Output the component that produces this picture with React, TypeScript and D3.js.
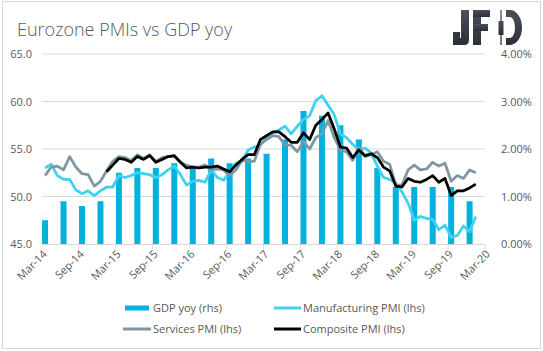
import React from 'react';
import * as d3 from 'd3';

// monthly PMI readings, Mar-14 .. Jan-20
const manufacturing = [
  53.0, 53.4, 52.2, 51.8, 51.8, 50.7, 50.3, 50.6, 50.1, 50.6,
  51.0, 51.0, 52.2, 52.0, 52.2, 52.5, 52.4, 52.3, 52.0, 52.3, 52.8, 53.2,
  52.3, 51.2, 51.6, 51.7, 51.5, 52.8, 52.0, 51.7, 52.6, 53.5, 53.7, 54.9,
  55.2, 55.4, 56.2, 56.7, 57.0, 57.4, 56.6, 57.4, 58.1, 58.5, 60.1, 60.6,
  59.6, 58.6, 56.6, 56.2, 55.5, 54.9, 55.1, 54.6, 53.2, 52.0, 51.8, 51.4,
  50.5, 49.3, 47.5, 47.9, 47.7, 47.6, 46.5, 47.0, 45.7, 45.9, 46.9, 46.3,
  47.9,
];
const services = [
  52.2, 53.1, 53.2, 52.8, 54.2, 53.1, 52.4, 52.3, 51.1, 51.6,
  52.7, 53.7, 54.2, 54.1, 53.8, 54.4, 54.0, 54.4, 53.7, 54.1, 54.2, 54.2,
  53.6, 53.3, 53.1, 53.1, 53.3, 52.8, 52.9, 52.8, 52.2, 52.8, 53.8, 53.7,
  53.7, 55.5, 56.0, 56.4, 56.3, 55.4, 55.4, 54.7, 55.8, 55.0, 56.2, 56.6,
  58.0, 56.2, 54.9, 54.7, 53.8, 55.2, 54.2, 54.4, 54.7, 53.7, 53.4, 51.2,
  51.2, 52.8, 53.3, 52.8, 52.9, 53.6, 53.2, 53.5, 51.6, 52.2, 51.9, 52.8,
  52.5,
];
// composite starts Jan-15 (month 10)
const compositeStart = 10;
const composite = [
  52.6, 53.3, 54.0, 53.9, 53.6, 54.2, 53.9, 54.3, 53.6, 53.9, 54.2, 54.3,
  53.6, 53.0, 53.1, 53.0, 53.1, 53.1, 53.2, 52.9, 52.6, 53.3, 53.9, 54.4,
  54.4, 56.0, 56.4, 56.8, 56.8, 56.3, 55.7, 55.7, 56.7, 56.0, 57.5, 58.1,
  58.8, 57.1, 55.2, 55.1, 54.1, 54.9, 54.3, 54.5, 54.1, 53.1, 52.7, 51.1,
  51.0, 51.9, 51.6, 51.5, 51.8, 52.2, 51.5, 51.9, 50.1, 50.6, 50.6, 50.9,
  51.3,
];
// quarterly GDP yoy %, Mar-14 .. Dec-19
const gdp = [
  0.5, 0.9, 0.8, 0.9, 1.5, 1.6, 1.6, 1.7, 1.6, 1.8, 1.7, 1.8,
  1.9, 2.2, 2.8, 2.7, 2.5, 2.2, 1.6, 1.2, 1.2, 1.2, 1.2, 0.9,
];
const tickLabels = [
  'Mar-14', 'Sep-14', 'Mar-15', 'Sep-15', 'Mar-16', 'Sep-16', 'Mar-17',
  'Sep-17', 'Mar-18', 'Sep-18', 'Mar-19', 'Sep-19', 'Mar-20',
];
const leftTicks = [45, 50, 55, 60, 65];
const rightTicks = [0, 1, 2, 3, 4];

const W = 543;
const H = 351;
const font = "'Open Sans', 'Liberation Sans', sans-serif";
const txt = '#595959';
const grid = '#d9d9d9';
const cBar = '#00b2dc';
const cMan = '#3cd2f0';
const cSer = '#7f97a2';
const cCom = '#000000';

const x = d3.scaleLinear().domain([0, 72]).range([42, 485]);
const yL = d3.scaleLinear().domain([45, 65]).range([244, 54]);
const yR = d3.scaleLinear().domain([0, 4]).range([244, 54]);

const mkLine = (start: number) =>
  d3.line<number>()
    .x((_, i) => x(start + i + 0.5))
    .y((d) => yL(d));

export default function App() {
  const barW = 6;
  return (
    <svg width={W} height={H} style={{ position: 'fixed', left: 0, top: 0, background: '#fff' }}>
      <defs>
        <linearGradient id="logo" x1="0" y1="0" x2="0" y2="1">
          <stop offset="0" stopColor="#4b5159" />
          <stop offset="1" stopColor="#2a2f36" />
        </linearGradient>
      </defs>
      <rect x={2.5} y={1.5} width={538} height={347} fill="#fff" stroke={grid} />

      <text x={17} y={36} fontFamily={font} fontWeight={300} fontSize={18} fill={txt}>
        Eurozone PMIs vs GDP yoy
      </text>

      {/* JFD logo */}
      <g fill="url(#logo)">
        <path d="M453,32 h7 v6 h1 V10 h8 v30 q0,5 -5,5 h-11 z" />
        <rect x={473} y={10} width={8} height={35} />
        <rect x={473} y={10} width={17} height={7} />
        <rect x={473} y={24} width={15} height={7} />
        <rect x={500.4} y={10} width={1.3} height={35} />
        <rect x={498.5} y={21} width={5} height={14} />
        <path d="M506,10 h4 a12,17.5 0 0 1 0,35 h-4 v-7 h4 a5,10.5 0 0 0 0,-21 h-4 z" />
      </g>

      {leftTicks.map((t) => (
        <g key={t}>
          {t > 45 && <line x1={x(0)} x2={x(72)} y1={yL(t)} y2={yL(t)} stroke={grid} />}
          <text x={32} y={yL(t) + 4} textAnchor="end" fontFamily={font} fontSize={11} fill={txt}>
            {t.toFixed(1)}
          </text>
        </g>
      ))}
      {rightTicks.map((t) => (
        <text key={t} x={501} y={yR(t) + 4} fontFamily={font} fontSize={11} fill={txt}>
          {t.toFixed(2)}%
        </text>
      ))}

      {gdp.map((v, i) => (
        <rect key={i} x={x(i * 3 + 0.5) - barW / 2} y={yR(v)} width={barW} height={yR(0) - yR(v)} fill={cBar} />
      ))}

      <line x1={x(0)} x2={x(72)} y1={244.5} y2={244.5} stroke={grid} />
      {tickLabels.map((l, i) => (
        <g key={l}>
          <line x1={x(i * 6)} x2={x(i * 6)} y1={244.5} y2={249} stroke={grid} />
          <text
            transform={`translate(${x(i * 6) + 3},${252}) rotate(-45)`}
            textAnchor="end"
            dy="0.35em"
            fontFamily={font}
            fontSize={11}
            fill={txt}
          >
            {l}
          </text>
        </g>
      ))}

      <path d={mkLine(0)(manufacturing) || ''} fill="none" stroke={cMan} strokeWidth={2.75} strokeLinejoin="round" />
      <path d={mkLine(0)(services) || ''} fill="none" stroke={cSer} strokeWidth={2.75} strokeLinejoin="round" />
      <path d={mkLine(compositeStart)(composite) || ''} fill="none" stroke={cCom} strokeWidth={2.75} strokeLinejoin="round" />

      {/* legend */}
      <g fontFamily={font} fontSize={11} fill={txt}>
        <rect x={125} y={305.5} width={24} height={5} fill={cBar} />
        <text x={153} y={312}>GDP yoy (rhs)</text>
        <line x1={274} x2={301} y1={308} y2={308} stroke={cMan} strokeWidth={3} />
        <text x={303} y={312}>Manufacturing PMI (lhs)</text>
        <line x1={123} x2={151} y1={329} y2={329} stroke={cSer} strokeWidth={3} />
        <text x={153} y={333}>Services PMI (lhs)</text>
        <line x1={274} x2={301} y1={329} y2={329} stroke={cCom} strokeWidth={3} />
        <text x={303} y={333}>Composite PMI (lhs)</text>
      </g>
    </svg>
  );
}
